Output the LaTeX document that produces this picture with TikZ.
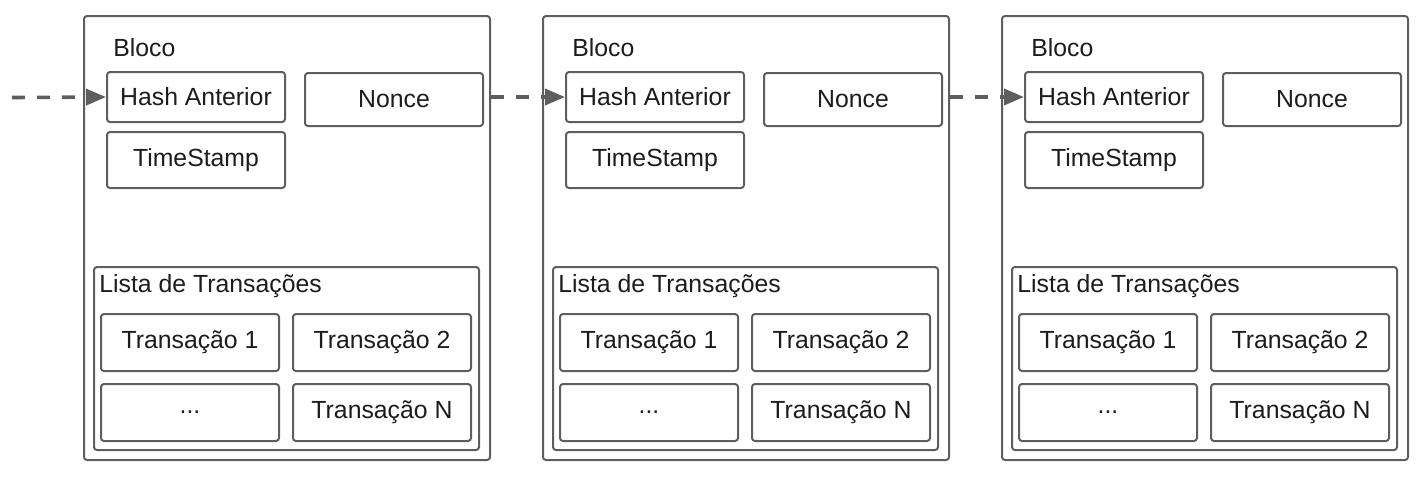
\documentclass[tikz,border=0pt]{standalone}
\usepackage{fontspec}
\setmainfont{Liberation Sans}
\usetikzlibrary{arrows.meta}
\definecolor{linegray}{HTML}{5E5E5E}
\definecolor{txtgray}{HTML}{1C1C1C}

\begin{document}
\begin{tikzpicture}[x=0.5pt,y=-0.5pt,font=\fontsize{12.4}{14}\selectfont,
  frame/.style={draw=linegray,line width=1pt,rounded corners=1.5pt,inner sep=0pt},
  cell/.style={frame,minimum width=89pt,align=center,text=txtgray},
  link/.style={draw=linegray,line width=1.8pt,dash pattern=on 6.5pt off 6pt,
    -{Triangle[length=10pt,width=8pt]}}]
  \useasboundingbox (0,0) rectangle (1424,478);
  \foreach \i/\dx in {1/0,2/459,3/918}{
    \node[frame,minimum width=203pt,minimum height=222pt] (blk\i) at (287+\dx,238) {};
    \node[anchor=base west,inner sep=0pt,text=txtgray] (title\i) at (113+\dx,56) {Bloco};
    \node[cell,minimum height=25pt] (hash\i) at (196+\dx,97) {Hash Anterior};
    \node[cell,minimum height=26.5pt] (nonce\i) at (394+\dx,99.5) {Nonce};
    \node[cell,minimum height=28pt] (time\i) at (196+\dx,160) {TimeStamp};
    \node[frame,minimum width=192.5pt,minimum height=91.5pt] (list\i) at (286.5+\dx,358.5) {};
    \node[anchor=base west,inner sep=0pt,text=txtgray] (listlab\i) at (99+\dx,292) {Lista de Transações};
    \node[cell,minimum height=28.5pt] (tra\i) at (190+\dx,342.5) {Transação 1};
    \node[cell,minimum height=28.5pt] (trb\i) at (382+\dx,342.5) {Transação 2};
    \node[cell,minimum height=28.5pt] (dots\i) at (190+\dx,412.5) {...};
    \node[cell,minimum height=28.5pt] (trn\i) at (382+\dx,412.5) {Transação N};
  }
  % chain of blocks
  \coordinate (start) at (12,97.5);
  \draw[link] (start) -- (hash1.west);
  \foreach \i/\j in {1/2,2/3}
    \draw[link] (blk\i.east |- hash\j.west) -- (hash\j.west);
\end{tikzpicture}
\end{document}
